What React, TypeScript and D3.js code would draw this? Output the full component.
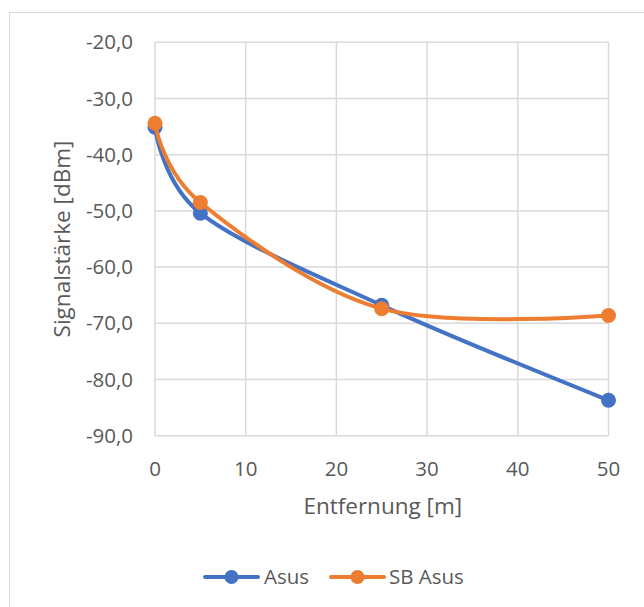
import React from "react";
import * as d3 from "d3";

// Distance in metres
const distances = [0, 5, 25, 50];
// Signal strength in dBm per series
const asusValues = [-35.1, -50.4, -66.8, -83.7];
const sbAsusValues = [-34.4, -48.5, -67.4, -68.6];
const seriesNames = ["Asus", "SB Asus"];
const seriesColors = ["#4472C4", "#ED7D31"];
const xTicks = [0, 10, 20, 30, 40, 50];
const yTicks = [-20, -30, -40, -50, -60, -70, -80, -90];

const W = 644;
const H = 607;
const plot = { left: 155, right: 608.5, top: 42.3, bottom: 435.7 };
const font = "'Open Sans', 'Noto Sans', sans-serif";
const textColor = "#595959";

export default function App() {
  const x = d3.scaleLinear().domain([0, 50]).range([plot.left, plot.right]);
  const y = d3.scaleLinear().domain([-20, -90]).range([plot.top, plot.bottom]);
  const line = d3
    .line<[number, number]>()
    .x((d) => x(d[0]))
    .y((d) => y(d[1]))
    .curve(d3.curveCardinal.tension(0));

  const series = [asusValues, sbAsusValues].map((vals) =>
    distances.map((d, i) => [d, vals[i]] as [number, number])
  );
  const fmt = (v: number) => v.toFixed(1).replace(".", ",");

  const legend = [
    { x0: 205, x1: 258, tx: 264 },
    { x0: 331, x1: 384, tx: 389 },
  ];

  return (
    <svg
      width={W}
      height={H}
      style={{ position: "absolute", left: 0, top: 0, background: "#fff" }}
      fontFamily={font}
    >
      <rect x={9.5} y={12.5} width={W} height={H} fill="#fff" stroke="#d9d9d9" strokeWidth={1} />
      {/* gridlines */}
      {yTicks.map((t) => (
        <line key={"gy" + t} x1={plot.left} x2={plot.right} y1={y(t)} y2={y(t)} stroke="#d9d9d9" strokeWidth={1.5} />
      ))}
      {xTicks.map((t) => (
        <line key={"gx" + t} x1={x(t)} x2={x(t)} y1={plot.top} y2={plot.bottom} stroke="#d9d9d9" strokeWidth={1.5} />
      ))}
      {/* tick labels */}
      {yTicks.map((t) => (
        <text key={"ty" + t} x={133} y={y(t)} dy="0.35em" textAnchor="end" fontSize={20.5} fill={textColor}>
          {fmt(t)}
        </text>
      ))}
      {xTicks.map((t) => (
        <text key={"tx" + t} x={x(t)} y={469} dy="0.35em" textAnchor="middle" fontSize={20.5} fill={textColor}>
          {t}
        </text>
      ))}
      <text x={(plot.left + plot.right) / 2 + 1} y={506} dy="0.35em" textAnchor="middle" fontSize={22.5} fill={textColor}>
        Entfernung [m]
      </text>
      <text
        transform={`translate(62,${(plot.top + plot.bottom) / 2}) rotate(-90)`}
        dy="0.35em"
        textAnchor="middle"
        fontSize={22.5}
        fill={textColor}
      >
        Signalstärke [dBm]
      </text>
      {/* series */}
      {series.map((pts, si) => (
        <g key={"s" + si}>
          <path d={line(pts) || ""} fill="none" stroke={seriesColors[si]} strokeWidth={4} strokeLinecap="round" />
          {pts.map((p, i) => (
            <circle key={i} cx={x(p[0])} cy={y(p[1])} r={7.5} fill={seriesColors[si]} />
          ))}
        </g>
      ))}
      {/* legend */}
      {legend.map((l, i) => (
        <g key={"l" + i}>
          <line x1={l.x0} x2={l.x1} y1={577} y2={577} stroke={seriesColors[i]} strokeWidth={4} strokeLinecap="round" />
          <circle cx={(l.x0 + l.x1) / 2} cy={577} r={7} fill={seriesColors[i]} />
          <text x={l.tx} y={577} dy="0.35em" fontSize={20.5} fill={textColor}>
            {seriesNames[i]}
          </text>
        </g>
      ))}
    </svg>
  );
}
